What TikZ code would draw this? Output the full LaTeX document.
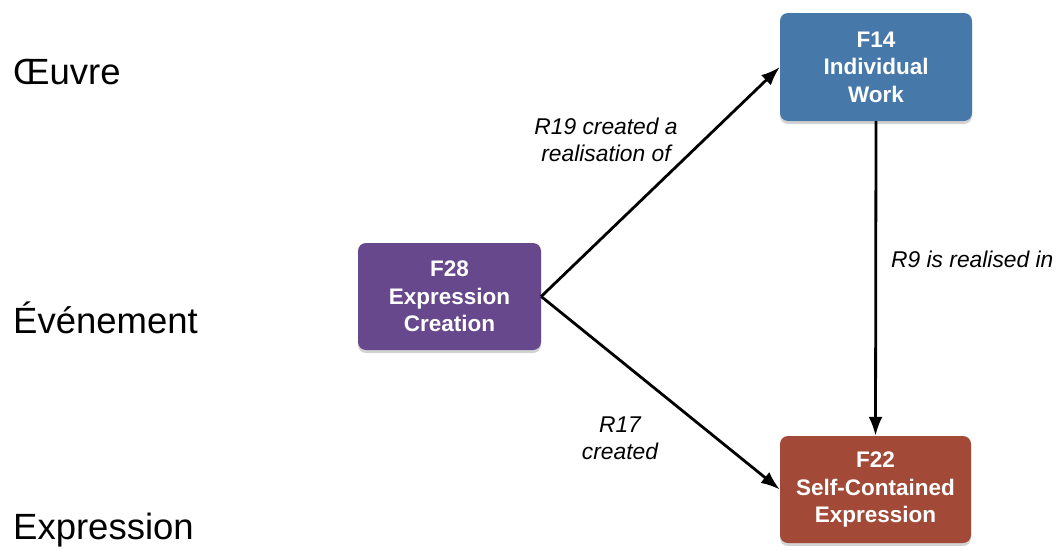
\documentclass[tikz,border=0pt]{standalone}
\usepackage{fontspec}
\setmainfont{Liberation Sans}
\usetikzlibrary{shadows,arrows.meta}
\definecolor{workblue}{HTML}{4678AA}
\definecolor{evpurple}{HTML}{68488C}
\definecolor{exprred}{HTML}{A24A37}
\tikzset{
  entity/.style={rounded corners=8pt, text=white, align=center,
    font=\fontsize{22.5}{27.5}\selectfont\bfseries, inner sep=0pt,
    drop shadow={shadow xshift=0pt, shadow yshift=-3pt, opacity=0.35}},
  rel/.style={-{Latex[length=19pt,width=14pt]}, line width=2.8pt},
  rellabel/.style={font=\fontsize{22.8}{27}\selectfont\itshape, align=center, inner sep=0pt},
  level/.style={font=\fontsize{36.5}{40}\selectfont, anchor=west, inner sep=0pt}
}
\begin{document}
\begin{tikzpicture}[x=1pt,y=-1pt]
\useasboundingbox (0,0) rectangle (1063,549);
\node[level] (oeuvre) at (13,72) {Œuvre};
\node[level] (event) at (13,318) {Événement};
\node[level] (expr) at (13,530) {Expression};

\node[entity, fill=workblue, minimum width=192pt, minimum height=108pt] (f14) at (876,67) {F14\\Individual\\Work};
\node[entity, fill=evpurple, minimum width=183pt, minimum height=107pt] (f28) at (449.5,296.5) {F28\\Expression\\Creation};
\node[entity, fill=exprred, minimum width=191pt, minimum height=107pt] (f22) at (875.5,489.5) {F22\\Self-Contained\\Expression};

\draw[rel] (f28.east) -- (f14.west);
\draw[rel] (f28.east) -- (f22.west);
\draw[rel] (f14.south) -- (f22.north);

\node[rellabel] (l19) at (606,140) {R19 created a\\realisation of};
\node[rellabel, anchor=west] (l9) at (891,259) {R9 is realised in};
\node[rellabel] (l17) at (620,438) {R17\\created};
\end{tikzpicture}
\end{document}
